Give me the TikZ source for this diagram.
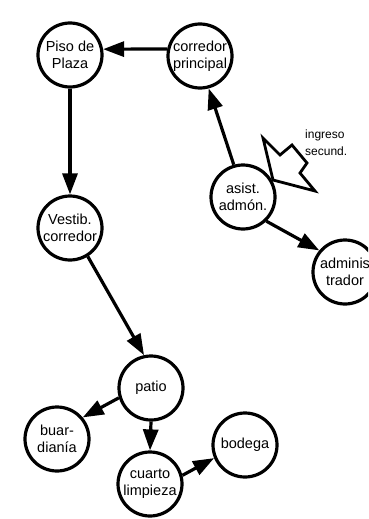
\documentclass[tikz,border=0pt]{standalone}
\usepackage{fontspec}
\setmainfont{Liberation Sans}
\usetikzlibrary{arrows.meta}
\begin{document}
\begin{tikzpicture}[x=1pt,y=-1pt,
  place/.style={circle,draw,line width=3.2pt,minimum size=64pt,inner sep=-10pt,align=center,font=\fontsize{14.5}{17}\selectfont},
  arr/.style={line width=3.2pt,-{Triangle[length=21pt,width=15pt]}},
  gate/.style={draw,line width=2.8pt,line join=miter},
  note/.style={align=left,font=\fontsize{12}{17}\selectfont,inner sep=0pt,anchor=west}]
\useasboundingbox (0,0) rectangle (368,519);
\clip (0,0) rectangle (368,519);
\node[place] (pp) at (70,55) {Piso de\\Plaza};
\node[place] (cp) at (200,56) {corredor\\principal};
\node[place] (aa) at (243,197) {asist.\\admón.};
\node[place] (ad) at (345,272) {adminis\\trador};
\node[place] (vc) at (70,228) {Vestib.\\corredor};
\node[place] (pa) at (151,388) {patio};
\node[place] (bu) at (57,439) {buar-\\dianía};
\node[place] (cl) at (150,484) {cuarto\\limpieza};
\node[place] (bo) at (245,445) {bodega};
\draw[arr] (cp.168) -- (pp.10);
\draw[arr] (pp.south) -- (vc.north);
\draw[arr] (aa.106) -- (cp.-75);
\draw[arr] (aa.-46) -- (ad.140);
\draw[arr] (vc.-58) -- (pa.102);
\draw[arr] (pa.197) -- (bu.40);
\draw[arr] (pa.south) -- (cl.north);
\draw[arr] (cl.15) -- (bo.203);
\draw[gate] (263,138) -- (280,155) -- (292,145) -- (307,163) -- (300,173) -- (315,191) -- (273,180) -- cycle;
\node[note] (ing) at (305,143) {ingreso\\secund.};
\end{tikzpicture}
\end{document}
